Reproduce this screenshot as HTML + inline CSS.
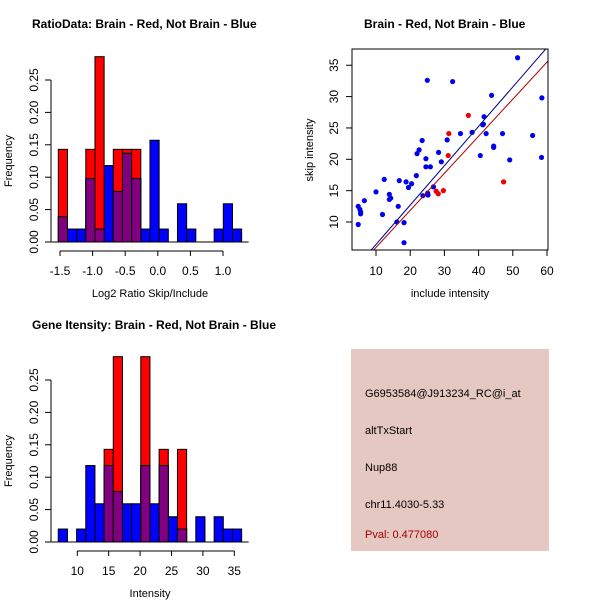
<!DOCTYPE html>
<html><head><meta charset="utf-8"><style>
body{margin:0;background:#fff}
svg{display:block;font-family:"Liberation Sans",sans-serif}
</style></head><body>
<svg id="s" width="600" height="600" viewBox="0 0 600 600">
<rect width="600" height="600" fill="#fff"/>
<text x="32" y="28" font-size="12" font-weight="bold">RatioData: Brain - Red, Not Brain - Blue</text>
<text x="364" y="28" font-size="12" font-weight="bold">Brain - Red, Not Brain - Blue</text>
<text x="32" y="329" font-size="12" font-weight="bold">Gene Itensity: Brain - Red, Not Brain - Blue</text>
<g id="h1"></g>
<g id="h2"></g>
<g id="sc"></g>
<g>
<rect x="351" y="349" width="198" height="202" fill="#e6c8c2"/>
<text x="365" y="397" font-size="11">G6953584@J913234_RC@i_at</text>
<text x="365" y="434" font-size="11">altTxStart</text>
<text x="365" y="471" font-size="11">Nup88</text>
<text x="365" y="508" font-size="11">chr11.4030-5.33</text>
<text x="365" y="538" font-size="11" fill="#a00000">Pval: 0.477080</text>
</g>
</svg>
<script>
const ratioStart=-1.526, ratioWidth=0.1406;
const ratioBlue=[0.039,0.02,0.02,0.098,0.02,0.118,0.078,0.137,0.098,0.02,0.157,0.02,0,0.059,0.02,0,0,0.02,0.059,0.02];
const ratioRed=[0.143,0,0,0.143,0.286,0,0.143,0.143,0.143,0,0,0,0,0,0,0,0,0,0,0];
const ratioTicks=[-1.5,-1.0,-0.5,0.0,0.5,1.0];
const intStart=6.97, intWidth=1.46;
const intBlue=[0.02,0,0.02,0.118,0.059,0.118,0.078,0.059,0.059,0.118,0.059,0.118,0.039,0.02,0,0.039,0,0.039,0.02,0.02];
const intRed=[0,0,0,0,0,0.143,0.286,0,0,0.286,0,0.143,0,0.143,0,0,0,0,0,0];
const intTicks=[10,15,20,25,30,35];
const freqTicks=[0.00,0.05,0.10,0.15,0.20,0.25];
const blueX=[4.8,4.8,5.3,5.5,5.5,6.6,10,11.9,12.4,13.9,13.9,14.3,16.1,16.5,16.8,18.2,18.2,18.8,19.5,20.4,21.8,22,22.6,23.5,23.7,24.6,24.6,25,25.2,25.1,25.9,26.8,28.3,29.1,30.8,32.4,34.7,38.1,40.5,41.2,41.6,41.4,42.2,43.8,44.4,44.4,47,49.1,51.4,55.8,58.5,58.4];
const blueY=[9.6,12.5,12.0,11.6,11.3,13.4,14.8,11.2,16.8,14.4,13.6,13.8,10,12.5,16.6,9.9,6.7,16.4,15.5,16.1,17.4,20.9,21.5,23,14.2,20.1,18.8,32.6,14.3,14.6,18.8,15.6,21.1,19.6,23.1,32.4,24.1,24.3,20.6,25.5,26.8,25.6,24.1,30.2,22.1,21.9,24.1,19.9,36.2,23.8,29.8,20.3];
const redX=[31.1,31.3,37,27.6,28.2,29.7,47.3];
const redY=[20.6,24.1,27,14.9,14.5,15,16.4];
const fitBlue=[0.14,0.628];
const fitRed=[0.04,0.591];
const scXTicks=[10,20,30,40,50,60];
const scYTicks=[10,15,20,25,30,35];
const NS='http://www.w3.org/2000/svg';
function mk(p,t,a){const e=document.createElementNS(NS,t);for(const k in a)e.setAttribute(k,a[k]);p.appendChild(e);return e;}
function hist(g,x0,baseY,axY,pxPerUnit,ax0,start,w,blue,red,ticks,xlab,labY,tickFmt){
 const sx=v=>x0+(v-ax0)*pxPerUnit, sy=v=>baseY-v*648;
 blue.forEach((v,i)=>{if(v<=0)return;const a=sx(start+i*w),b=sx(start+(i+1)*w);
  const r=mk(g,'rect',{x:a,y:sy(v),width:b-a,height:baseY-sy(v),fill:'#0000ff',stroke:'#000','stroke-width':1});
  
  });
 red.forEach((v,i)=>{if(v<=0)return;const a=sx(start+i*w),b=sx(start+(i+1)*w);
  const r=mk(g,'rect',{x:a,y:sy(v),width:b-a,height:baseY-sy(v),fill:'rgba(255,0,0,1)',stroke:'#000','stroke-width':1});
  
  
  const o=Math.min(v,blue[i]);if(o>0){const p=mk(g,'rect',{x:a,y:sy(o),width:b-a,height:baseY-sy(o),fill:'#800080',stroke:'#000','stroke-width':1});
  
  }});
 const xa=sx(start),xb=sx(start+blue.length*w);
 mk(g,'line',{x1:xa-7,y1:baseY,x2:xb+7,y2:baseY,stroke:'#000'});
 mk(g,'line',{x1:sx(ticks[0]),y1:axY,x2:sx(ticks[ticks.length-1]),y2:axY,stroke:'#000'});
 ticks.forEach(t=>{mk(g,'line',{x1:sx(t),y1:axY,x2:sx(t),y2:axY+5,stroke:'#000'});
  const tx=mk(g,'text',{x:sx(t),y:axY+24,'font-size':12,'text-anchor':'middle'});tx.textContent=tickFmt(t);
  
  });
 const yx=51;
 mk(g,'line',{x1:yx,y1:sy(0),x2:yx,y2:sy(0.25),stroke:'#000'});
 freqTicks.forEach(t=>{mk(g,'line',{x1:yx,y1:sy(t),x2:yx-6,y2:sy(t),stroke:'#000'});
  const tx=mk(g,'text',{x:0,y:0,'font-size':12,'text-anchor':'middle',transform:`translate(38,${sy(t)}) rotate(-90)`});tx.textContent=t.toFixed(2);
  
  });
 const xl=mk(g,'text',{x:150,y:labY,'font-size':11,'text-anchor':'middle'});xl.textContent=xlab;
 
 
 const yl=mk(g,'text',{x:0,y:0,'font-size':11,'text-anchor':'middle',transform:`translate(12,${sy(0.125)}) rotate(-90)`});yl.textContent='Frequency';
 
 
}
hist(document.getElementById('h1'),60,242,251,65.2,-1.5,ratioStart,ratioWidth,ratioBlue,ratioRed,ratioTicks,'Log2 Ratio Skip/Include',297,t=>t.toFixed(1));
hist(document.getElementById('h2'),77.3,542,551,6.28,10,intStart,intWidth,intBlue,intRed,intTicks,'Intensity',597,t=>String(t));
// scatter
const g=document.getElementById('sc');
const px=v=>376+(v-10)*3.42, py=v=>222-(v-10)*6.27;
mk(g,'clipPath',{id:'cp'}).appendChild(document.createElementNS(NS,'rect'));
const cr=g.querySelector('#cp rect');cr.setAttribute('x',352);cr.setAttribute('y',49);cr.setAttribute('width',196);cr.setAttribute('height',201);
blueX.forEach((x,i)=>{const c=mk(g,'circle',{cx:px(x),cy:py(blueY[i]),r:2.6,fill:'#0000ee'});
 
 });
redX.forEach((x,i)=>{const c=mk(g,'circle',{cx:px(x),cy:py(redY[i]),r:2.6,fill:'#ee0000'});
 
 });
[[fitBlue,'#00008b','blue-fit-line'],[fitRed,'#b00000','red-fit-line']].forEach(([f,col,nm])=>{
 const l=mk(g,'line',{x1:px(0),y1:py(f[0]),x2:px(70),y2:py(f[0]+f[1]*70),stroke:col,'stroke-width':1,'clip-path':'url(#cp)'});
 
 });
mk(g,'rect',{x:352,y:49,width:196,height:201,fill:'none',stroke:'#000'});
scXTicks.forEach(t=>{mk(g,'line',{x1:px(t),y1:250,x2:px(t),y2:256,stroke:'#000'});
 const tx=mk(g,'text',{x:px(t),y:275,'font-size':12,'text-anchor':'middle'});tx.textContent=t;
 
 });
scYTicks.forEach(t=>{mk(g,'line',{x1:352,y1:py(t),x2:346,y2:py(t),stroke:'#000'});
 const tx=mk(g,'text',{x:0,y:0,'font-size':12,'text-anchor':'middle',transform:`translate(338,${py(t)}) rotate(-90)`});tx.textContent=t;
 
 });
const sxl=mk(g,'text',{x:450,y:297,'font-size':11,'text-anchor':'middle'});sxl.textContent='include intensity';


const syl=mk(g,'text',{x:0,y:0,'font-size':11,'text-anchor':'middle',transform:'translate(313,150) rotate(-90)'});syl.textContent='skip intensity';


</script>
</body></html>
